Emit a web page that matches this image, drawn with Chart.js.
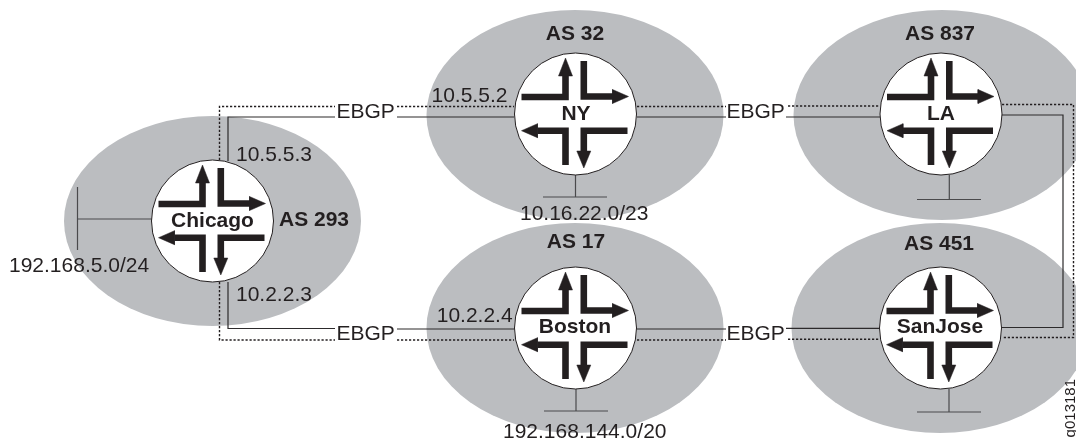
<!DOCTYPE html>
<html><head><meta charset="utf-8">
<style>html,body{margin:0;padding:0;background:#fff;overflow:hidden}canvas{display:block}</style>
<script src="https://cdn.jsdelivr.net/npm/chart.js@4"></script>
</head><body><canvas id="c" width="1076" height="438"></canvas>
<script>
const INK='#231f20', GREY='#bbbdc0';
// autonomous-system clouds
const cloudX=[212.5,575,942,575,940], cloudY=[221,115,115,328,328];
const cloudRX=148.5, cloudRY=105;
// routers
const routerX=[212.5,575.5,941,575.5,940.5], routerY=[221,114,114,328,328];
// router glyph: polylines and heads relative to router centre
const shaftsDX=[[-54,-10,-10],[8.3,8.3,38],[-10,-10,-38],[52,8.3,8.3]];
const shaftsDY=[[-17,-17,-39],[-53,-17.5,-17.5],[51,16.7,16.7],[16.7,16.7,38]];
const headsDX=[[-10,-3,-17],[53,37,37],[-54,-38,-38],[8.3,15.3,1.3]];
const headsDY=[[-56,-38,-38],[-17.5,-24.5,-10.5],[16.7,9.7,23.7],[54,37,37]];
// links (null breaks the line)
const solidX=[[228,228,335,null,397,514],[637,726],[786,880],[1002,1063,1063,1002],[637,726],[786,880],[228,228,335,null,397,514]];
const solidY=[[161,117,117,null,117,117],[117,117],[117,117],[115,115,327.5,327.5],[329,329],[328.3,328.3],[282,328.5,328.5,null,329,329]];
const dottedX=[[219.5,219.5,335,null,397,514],[637,726],[788,880],[1002,1073.5,1073.5,1002],[637,726],[788,880],[219.5,219.5,335,null,397,514]];
const dottedY=[[160,106.5,106.5,null,106.5,106.5],[106.5,106.5],[106,106],[104.5,104.5,337.5,337.5],[340,340],[339.3,339.3],[282,340,340,null,340,340]];
// network stubs
const stubX=[[152,77.5],[77.5,77.5],[575.5,575.5],[543,607],[949.3,949.3],[917,981],[576,576],[544,608],[949,949],[917,981]];
const stubY=[[219,219],[187,250],[175,197],[197,197],[175,199.5],[199.5,199.5],[389,411],[411,411],[389,412],[412,412]];
// text
const plainText=['EBGP','EBGP','EBGP','EBGP','10.5.5.2','10.5.5.3','10.2.2.3','10.2.2.4','192.168.5.0/24','10.16.22.0/23','192.168.144.0/20'];
const plainX=[336.5,336.5,726.5,726.5,431.5,236,236,436.7,9,520,503];
const plainY=[118,340,118,340,101.5,160.5,300.5,321.7,271.5,219.5,437.5];
const boldText=['AS 32','AS 837','AS 17','AS 451','Chicago','NY','LA','Boston','SanJose'];
const boldX=[575,940,576,939,212.5,576,941,575,940];
const boldY=[39.5,39.5,247.5,249.5,226.5,120,119.5,332.5,333];
const sideText='AS 293', sideX=279, sideY=226;
const figId='g013181', figX=1075, figY=437.4;

const ds=[];
function poly(xs,ys,o){return Object.assign({type:'scatter',showLine:true,pointRadius:0,pointHitRadius:0,spanGaps:false,
  tension:0,data:xs.map((x,i)=>({x:x===null?NaN:x,y:ys[i]===null?NaN:ys[i]}))},o);}
solidX.forEach((xs,i)=>ds.push(poly(xs,solidY[i],{borderColor:'#2c2a2b',borderWidth:1.2,order:50})));
dottedX.forEach((xs,i)=>ds.push(poly(xs,dottedY[i],{borderColor:INK,borderWidth:1.4,borderDash:[2.2,1.8],order:50})));
stubX.forEach((xs,i)=>ds.push(poly(xs,stubY[i],{borderColor:'#4a4a4c',borderWidth:1.2,order:50})));
ds.push({type:'scatter',data:routerX.map((x,i)=>({x,y:routerY[i]})),pointRadius:61,pointBackgroundColor:'#fff',
  pointBorderColor:INK,pointBorderWidth:1,order:40});
routerX.forEach((cx,r)=>{
  shaftsDX.forEach((dx,s)=>ds.push(poly(dx.map(v=>cx+v),shaftsDY[s].map(v=>routerY[r]+v),
    {borderColor:INK,borderWidth:6.6,borderJoinStyle:'miter',borderCapStyle:'butt',order:30})));
  headsDX.forEach((dx,s)=>ds.push(poly(dx.map(v=>cx+v).concat(cx+dx[0]),headsDY[s].map(v=>routerY[r]+v).concat(routerY[r]+headsDY[s][0]),
    {borderColor:INK,backgroundColor:INK,borderWidth:0.5,fill:'shape',order:30})));
});
const painter={id:'painter',
  beforeDatasetsDraw(ch){const c=ch.ctx,X=ch.scales.x,Y=ch.scales.y;c.save();c.fillStyle=GREY;
    cloudX.forEach((x,i)=>{const px=X.getPixelForValue(x),py=Y.getPixelForValue(cloudY[i]);
      c.beginPath();c.ellipse(px,py,X.getPixelForValue(x+cloudRX)-px,Y.getPixelForValue(cloudY[i]+cloudRY)-py,0,0,7);c.fill();});
    c.restore();},
  afterDatasetsDraw(ch){const c=ch.ctx,X=ch.scales.x,Y=ch.scales.y;c.save();c.fillStyle=INK;c.textBaseline='alphabetic';
    c.font='21px "Liberation Sans"';c.textAlign='left';
    plainText.forEach((t,i)=>c.fillText(t,X.getPixelForValue(plainX[i]),Y.getPixelForValue(plainY[i])));
    c.font='bold 21px "Liberation Sans"';c.textAlign='center';
    boldText.forEach((t,i)=>c.fillText(t,X.getPixelForValue(boldX[i]),Y.getPixelForValue(boldY[i])));
    c.textAlign='left';c.fillText(sideText,X.getPixelForValue(sideX),Y.getPixelForValue(sideY));
    c.translate(X.getPixelForValue(figX),Y.getPixelForValue(figY));c.rotate(-Math.PI/2);
    c.font='15px "Liberation Sans"';c.fillText(figId,0,0);
    c.restore();}
};
new Chart(document.getElementById('c'),{
  data:{datasets:ds},
  plugins:[painter],
  options:{responsive:false,animation:false,devicePixelRatio:1,
    layout:{padding:0,autoPadding:false},
    clip:false,
    plugins:{legend:{display:false},tooltip:{enabled:false}},
    events:[],
    scales:{x:{type:'linear',display:false,min:0,max:1076},
            y:{type:'linear',display:false,min:0,max:438,reverse:true}}}
});
</script></body></html>
